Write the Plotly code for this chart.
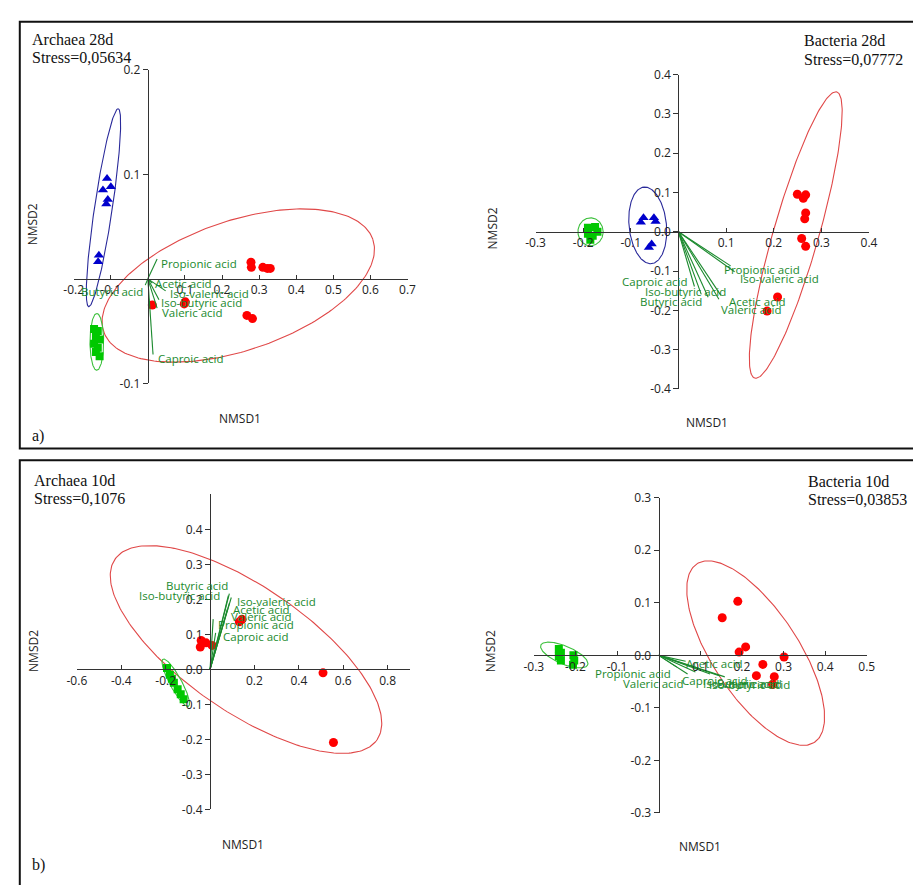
import numpy as np
import plotly.graph_objects as go

W, H = 913, 885

VARS = ["Propionic acid", "Acetic acid", "Iso-valeric acid", "Iso-butyric acid",
        "Valeric acid", "Butyric acid", "Caproic acid"]

# ---------------- Archaea 28d ----------------
a28_red_x = [0.278, 0.279, 0.310, 0.322, 0.330, 0.012, 0.101, 0.098, 0.267, 0.282]
a28_red_y = [0.016, 0.011, 0.011, 0.010, 0.010, -0.025, -0.022, -0.024, -0.035, -0.038]
a28_blue_x = [-0.110, -0.121, -0.0997, -0.112, -0.108, -0.132, -0.134]
a28_blue_y = [0.096, 0.085, 0.088, 0.0716, 0.076, 0.0225, 0.0163]
a28_green_x = [-0.145, -0.135, -0.140, -0.130, -0.145, -0.135, -0.140, -0.130]
a28_green_y = [-0.048, -0.050, -0.055, -0.058, -0.062, -0.066, -0.070, -0.074]
a28_vec_x = [0.025, 0.012, 0.048, 0.030, 0.025, -0.007, 0.014]
a28_vec_y = [0.019, -0.004, -0.0115, -0.020, -0.028, -0.006, -0.0724]
# ellipses: centre, first and second semi-axis vectors
a28_ell_red = [(0.2437, -0.0064), (0.3627, 0.0442), (0.0569, -0.0585)]
a28_ell_blue = [(-0.1196, 0.0681), (0.0397, 0.0947), (0.0238, -0.0012)]
a28_ell_green = [(-0.1376, -0.0603), (0.0, 0.0272), (0.0185, 0.0)]

# ---------------- Bacteria 28d ----------------
b28_red_x = [0.2495, 0.262, 0.267, 0.267, 0.265, 0.2586, 0.267, 0.208, 0.186]
b28_red_y = [0.0955, 0.0855, 0.094, 0.048, 0.033, -0.017, -0.037, -0.166, -0.202]
b28_blue_x = [-0.0734, -0.0515, -0.048, -0.079, -0.0563, -0.062]
b28_blue_y = [0.0355, 0.0355, 0.026, 0.024, -0.031, -0.040]
b28_green_x = [-0.190, -0.175, -0.190, -0.180, -0.170, -0.185]
b28_green_y = [0.010, 0.012, -0.005, -0.010, 0.000, -0.020]
b28_vec_x = [0.1095, 0.089, 0.1178, 0.0623, 0.0849, 0.0479, 0.0335]
b28_vec_y = [-0.0869, -0.1618, -0.1019, -0.1668, -0.1718, -0.1593, -0.1394]
b28_ell_red = [(0.2462, -0.0083), (0.086, 0.3645), (0.0458, -0.0159)]
b28_ell_blue = [(-0.0645, 0.0163), (-0.0082, 0.0975), (0.039, 0.005)]
b28_ell_green = [(-0.1845, 0.0), (0.0265, 0.0), (0.0, 0.0355)]

# ---------------- Archaea 10d ----------------
a10_red_x = [-0.040, -0.044, -0.018, 0.009, 0.144, 0.132, 0.509, 0.556]
a10_red_y = [0.0826, 0.064, 0.076, 0.0686, 0.143, 0.136, -0.0098, -0.209]
a10_green_x = [-0.194, -0.181, -0.172, -0.163, -0.146, -0.132, -0.119]
a10_green_y = [0.004, -0.015, -0.027, -0.038, -0.057, -0.071, -0.085]
a10_vec_x = [0.0141, 0.0869, 0.0957, 0.0825, 0.0781, 0.0869, 0.0251]
a10_vec_y = [0.1438, 0.1887, 0.2055, 0.2111, 0.1719, 0.2167, 0.1046]
a10_ell_red = [(0.162, 0.0569), (0.5906, -0.2579), (0.1590, 0.1473)]
a10_ell_green = [(-0.1545, -0.038), (0.0574, -0.0672), (0.0234, 0.0081)]

# ---------------- Bacteria 10d ----------------
b10_red_x = [0.190, 0.1526, 0.1932, 0.2089, 0.3012, 0.2502, 0.2347, 0.2777, 0.2737]
b10_red_y = [0.1028, 0.0716, 0.0062, 0.016, -0.0032, -0.0172, -0.0387, -0.0406, -0.0555]
b10_green_x = [-0.240, -0.235, -0.240, -0.235, -0.205, -0.203, -0.206]
b10_green_y = [0.012, 0.005, -0.002, -0.010, 0.000, -0.010, -0.018]
b10_vec_x = [0.0435, 0.0647, 0.1235, 0.1588, 0.0694, 0.147, 0.0882]
b10_vec_y = [-0.0224, -0.0112, -0.0355, -0.041, -0.0355, -0.0392, -0.0317]
b10_ell_red = [(0.233, 0.0043), (0.1415, -0.1697), (0.0861, 0.0454)]
b10_ell_green = [(-0.227, 0.0006), (0.0563, -0.0187), (-0.0082, -0.0159)]

# ---------------- styling ----------------
RED, BLUE, GREEN = "#ff0000", "#0000cc", "#00c800"
ELL_RED, ELL_BLUE, ELL_GREEN = "#e04848", "#2a2a9a", "#3cc03c"
VEC = "#1b8a2e"
AXIS = "#333333"
TICKFONT = dict(family="Open Sans", size=12, color="#222222")
LABFONT = dict(family="Open Sans", size=11.5, color=VEC)
SERIF = dict(family="Liberation Serif", size=16, color="#111111")

# label anchor and pixel offset (dx right, dy down) relative to each vector tip
a28_lab = [("left", 2, 5), ("left", 1, 0), ("left", 2, 3), ("left", 0, 3),
           ("left", 3, 4), ("right", 0, 6), ("left", 3, 4)]
b28_lab = [("left", -9, 4), ("left", 6, 6), ("left", 3, 7), ("center", -23, -6),
           ("left", 0, 10), ("center", -30, 7), ("right", -4, -5)]
a10_lab = [("left", 3, 5), ("left", 2, 6), ("left", 4, 4), ("right", -6, 0),
           ("left", 2, 7), ("right", 1, -8), ("left", 5, 4)]
b10_lab = [("right", -4, 6), ("left", -2, 2), ("left", -9, 10), ("left", -18, 8),
           ("right", -2, 10), ("left", -5, 8), ("left", -15, 9)]

panels = [
    dict(title="Archaea 28d", stress="Stress=0,05634", tx=20, ty=(31.5, 49.5),
         xd=(65, 406), yd=(62, 381.7), xr=(-0.2, 0.7), yr=(-0.1, 0.2),
         xt=[-0.2, -0.1, 0.1, 0.2, 0.3, 0.4, 0.5, 0.6, 0.7], yt=[-0.1, 0.1, 0.2],
         x1pos=(235, 418), x2pos=(23, 220),
         red=(a28_red_x, a28_red_y), blue=(a28_blue_x, a28_blue_y),
         green=(a28_green_x, a28_green_y), vec=(a28_vec_x, a28_vec_y), lab=a28_lab,
         ells=[(a28_ell_red, ELL_RED), (a28_ell_blue, ELL_BLUE), (a28_ell_green, ELL_GREEN)]),
    dict(title="Bacteria 28d", stress="Stress=0,07772", tx=809, ty=(32.5, 51),
         xd=(536.7, 877.3), yd=(67, 387.3), xr=(-0.3, 0.4), yr=(-0.4, 0.4),
         xt=[-0.3, -0.2, -0.1, 0.1, 0.2, 0.3, 0.4],
         yt=[-0.4, -0.3, -0.2, -0.1, 0.0, 0.1, 0.2, 0.3, 0.4],
         x1pos=(712, 422), x2pos=(493, 224),
         red=(b28_red_x, b28_red_y), blue=(b28_blue_x, b28_blue_y),
         green=(b28_green_x, b28_green_y), vec=(b28_vec_x, b28_vec_y), lab=b28_lab,
         ells=[(b28_ell_red, ELL_RED), (b28_ell_blue, ELL_BLUE), (b28_ell_green, ELL_GREEN)]),
    dict(title="Archaea 10d", stress="Stress=0,1076", tx=22.5, ty=(481, 499),
         xd=(68.3, 408.3), yd=(495, 816), xr=(-0.6, 0.9), yr=(-0.4, 0.5),
         xt=[-0.6, -0.4, -0.2, 0.2, 0.4, 0.6, 0.8],
         yt=[-0.4, -0.3, -0.2, -0.1, 0.0, 0.1, 0.2, 0.3, 0.4],
         x1pos=(238, 852), x2pos=(24, 655),
         red=(a10_red_x, a10_red_y), blue=None,
         green=(a10_green_x, a10_green_y), vec=(a10_vec_x, a10_vec_y), lab=a10_lab,
         ells=[(a10_ell_red, ELL_RED), (a10_ell_green, ELL_GREEN)]),
    dict(title="Bacteria 10d", stress="Stress=0,03853", tx=813, ty=(481.5, 500),
         xd=(535, 875), yd=(498.3, 819.7), xr=(-0.3, 0.5), yr=(-0.3, 0.3),
         xt=[-0.3, -0.2, -0.1, 0.1, 0.2, 0.3, 0.4, 0.5],
         yt=[-0.3, -0.2, -0.1, 0.0, 0.1, 0.2, 0.3],
         x1pos=(705, 854), x2pos=(491, 655),
         red=(b10_red_x, b10_red_y), blue=None,
         green=(b10_green_x, b10_green_y), vec=(b10_vec_x, b10_vec_y), lab=b10_lab,
         ells=[(b10_ell_red, ELL_RED), (b10_ell_green, ELL_GREEN)]),
]


def paper_x(p):
    return p / W


def paper_y(p):
    return 1 - p / H


def ellipse(params, n=240):
    (cx, cy), (ux, uy), (vx, vy) = params
    t = np.linspace(0, 2 * np.pi, n)
    return cx + ux * np.cos(t) + vx * np.sin(t), cy + uy * np.cos(t) + vy * np.sin(t)


fig = go.Figure()
annotations = []
layout_axes = {}

for i, p in enumerate(panels, start=1):
    xs = "" if i == 1 else str(i)
    xref, yref = "x" + xs, "y" + xs
    xdom = [paper_x(p["xd"][0]), paper_x(p["xd"][1])]
    ydom = [paper_y(p["yd"][1]), paper_y(p["yd"][0])]
    fx = (0 - p["xr"][0]) / (p["xr"][1] - p["xr"][0])
    fy = (0 - p["yr"][0]) / (p["yr"][1] - p["yr"][0])
    xzero = xdom[0] + fx * (xdom[1] - xdom[0])
    yzero = ydom[0] + fy * (ydom[1] - ydom[0])

    layout_axes["xaxis" + xs] = dict(
        domain=xdom, range=list(p["xr"]), anchor="free", position=yzero, side="bottom",
        tickvals=p["xt"], ticktext=[f"{v:.1f}" for v in p["xt"]],
        ticks="inside", ticklen=4, tickcolor=AXIS, tickwidth=1.2,
        showline=True, linecolor=AXIS, linewidth=1.2,
        showgrid=False, zeroline=False, tickfont=TICKFONT, fixedrange=True)
    layout_axes["yaxis" + xs] = dict(
        domain=ydom, range=list(p["yr"]), anchor="free", position=xzero, side="left",
        tickvals=p["yt"], ticktext=[f"{v:.1f}" for v in p["yt"]],
        ticks="outside", ticklen=5, tickcolor=AXIS, tickwidth=1.2,
        showline=True, linecolor=AXIS, linewidth=1.2,
        showgrid=False, zeroline=False, tickfont=TICKFONT, fixedrange=True)

    # confidence ellipses
    for params, col in p["ells"]:
        ex, ey = ellipse(params)
        fig.add_trace(go.Scatter(x=ex, y=ey, mode="lines", xaxis=xref, yaxis=yref,
                                 line=dict(color=col, width=1.1), hoverinfo="skip",
                                 showlegend=False))

    # sample groups
    fig.add_trace(go.Scatter(x=p["green"][0], y=p["green"][1], mode="markers",
                             xaxis=xref, yaxis=yref, showlegend=False,
                             marker=dict(symbol="square", size=8, color=GREEN,
                                         line=dict(width=0))))
    if p["blue"] is not None:
        fig.add_trace(go.Scatter(x=p["blue"][0], y=p["blue"][1], mode="markers",
                                 xaxis=xref, yaxis=yref, showlegend=False,
                                 marker=dict(symbol="triangle-up", size=9, color=BLUE,
                                             line=dict(width=0))))
    fig.add_trace(go.Scatter(x=p["red"][0], y=p["red"][1], mode="markers",
                             xaxis=xref, yaxis=yref, showlegend=False,
                             marker=dict(symbol="circle", size=9, color=RED,
                                         line=dict(width=0))))

    # environmental vectors
    vx, vy = p["vec"]
    lx, ly = [], []
    for tx_, ty_ in zip(vx, vy):
        lx += [0, tx_, None]
        ly += [0, ty_, None]
    fig.add_trace(go.Scatter(x=lx, y=ly, mode="lines", xaxis=xref, yaxis=yref,
                             line=dict(color=VEC, width=1.1), hoverinfo="skip",
                             showlegend=False))
    for name, tx_, ty_, (anc, dx, dy) in zip(VARS, vx, vy, p["lab"]):
        annotations.append(dict(x=tx_, y=ty_, xref=xref, yref=yref, text=name,
                                showarrow=False, xanchor=anc, yanchor="middle",
                                xshift=dx, yshift=-dy, font=LABFONT))

    # axis titles
    annotations.append(dict(x=paper_x(p["x1pos"][0]), y=paper_y(p["x1pos"][1]),
                            xref="paper", yref="paper", text="NMSD1", showarrow=False,
                            xanchor="center", yanchor="middle",
                            font=dict(family="Open Sans", size=12, color="#222222")))
    annotations.append(dict(x=paper_x(p["x2pos"][0]), y=paper_y(p["x2pos"][1]),
                            xref="paper", yref="paper", text="NMSD2", showarrow=False,
                            textangle=-90, xanchor="center", yanchor="middle",
                            font=dict(family="Open Sans", size=12, color="#222222")))

    # panel heading
    for txt, yy in zip([p["title"], p["stress"]], p["ty"]):
        annotations.append(dict(x=paper_x(p["tx"]), y=paper_y(yy), xref="paper",
                                yref="paper", text=txt, showarrow=False,
                                xanchor="left", yanchor="middle", font=SERIF))

# row letters
for txt, (px, py) in [("a)", (20, 435)), ("b)", (20.5, 873))]:
    annotations.append(dict(x=paper_x(px), y=paper_y(py), xref="paper", yref="paper",
                            text=txt, showarrow=False, xanchor="left", yanchor="middle",
                            font=SERIF))

shapes = [
    dict(type="rect", xref="paper", yref="paper", x0=paper_x(10), x1=1.02,
         y0=paper_y(448), y1=paper_y(13), line=dict(color="#111111", width=2)),
    dict(type="rect", xref="paper", yref="paper", x0=paper_x(10), x1=1.02,
         y0=-0.02, y1=paper_y(460), line=dict(color="#111111", width=2)),
]

fig.update_layout(width=W, height=H, margin=dict(l=0, r=0, t=0, b=0),
                  paper_bgcolor="white", plot_bgcolor="rgba(0,0,0,0)",
                  showlegend=False, annotations=annotations, shapes=shapes,
                  **layout_axes)

fig.write_html("out.html")
